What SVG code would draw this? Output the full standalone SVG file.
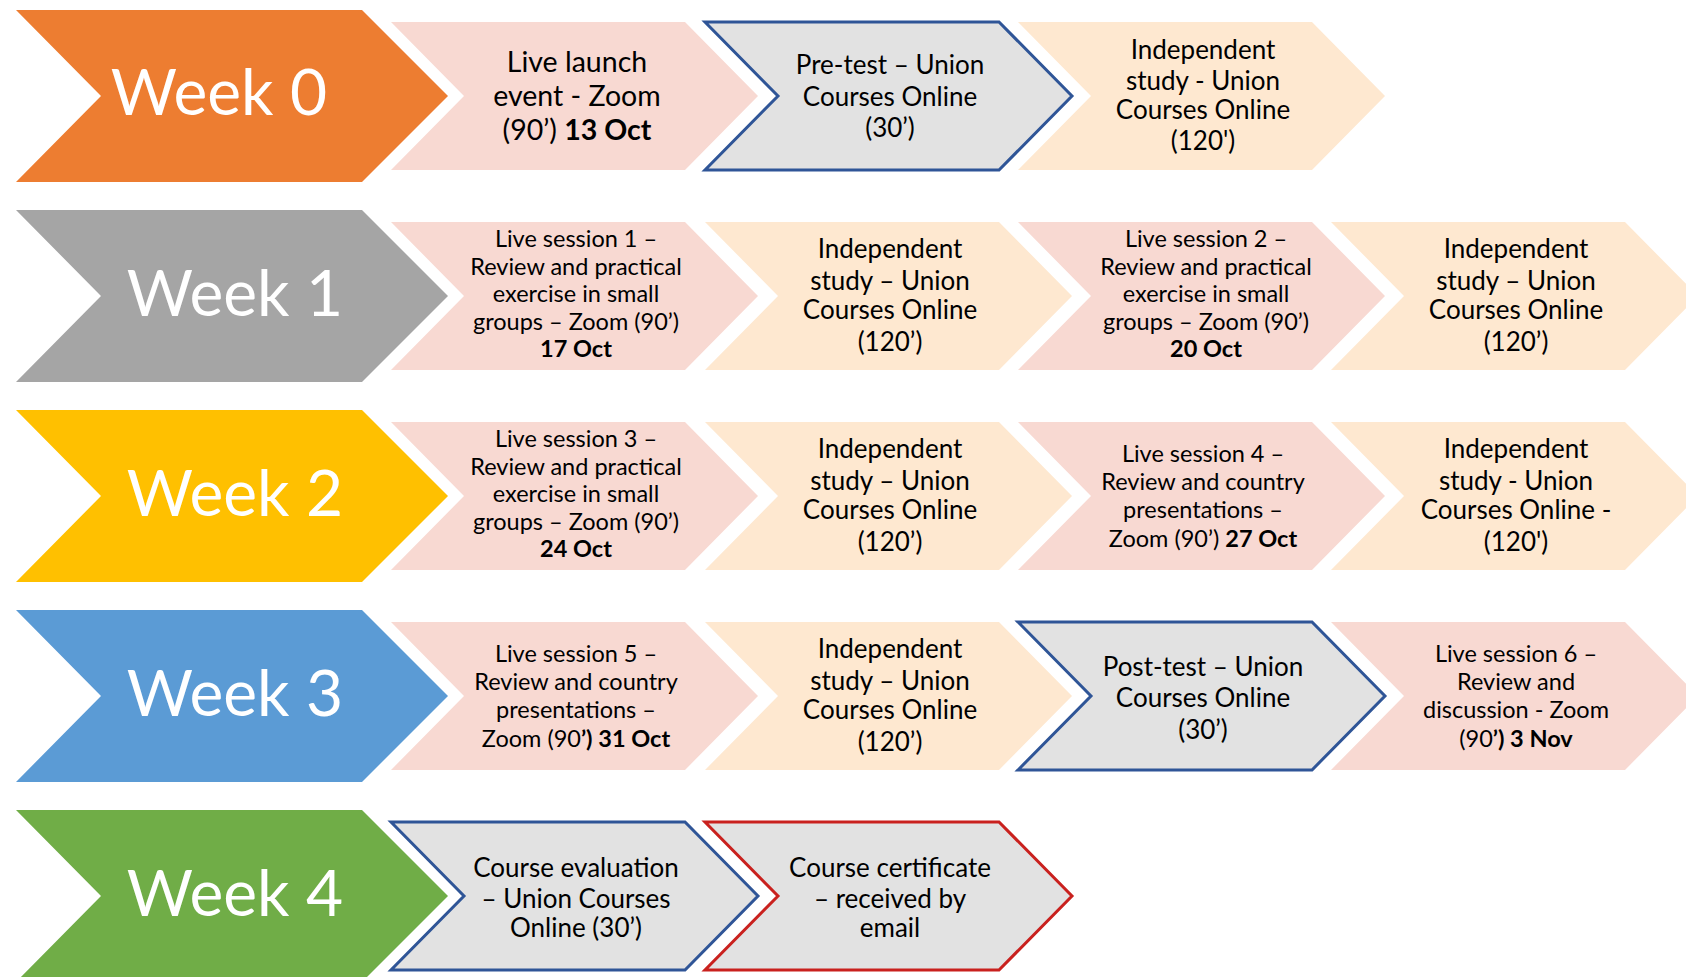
<svg xmlns="http://www.w3.org/2000/svg" width="1686" height="977" viewBox="0 0 1686 977">
<style>
.pink{fill:#F8D9D2}
.peach{fill:#FEE8D0}
.gb{fill:#E2E2E2;stroke:#2F5597;stroke-width:3}
.gr{fill:#E2E2E2;stroke:#C9211E;stroke-width:3}
text{font-family:Lato,"Liberation Sans",sans-serif;fill:#000;text-anchor:middle}
.wk{font-size:64px;fill:#fff}
.m{font-size:26px}
.l{font-size:28.5px}
.s{font-size:23.5px}
.b{font-weight:700}
</style>
<rect width="1686" height="977" fill="#fff"/>
<g id="connectors"/>
<!-- Week chevrons -->
<g id="week0"><polygon points="16,10 362,10 448,96 362,182 16,182 101,96" fill="#ED7D31"/><text class="wk" x="219" y="115">Week 0</text></g>
<g id="week1"><polygon points="16,210 362,210 448,296 362,382 16,382 101,296" fill="#A5A5A5"/><text class="wk" x="235" y="316">Week 1</text></g>
<g id="week2"><polygon points="16,410 362,410 448,496 362,582 16,582 101,496" fill="#FFC000"/><text class="wk" x="235" y="516">Week 2</text></g>
<g id="week3"><polygon points="16,610 362,610 448,696 362,782 16,782 101,696" fill="#5B9BD5"/><text class="wk" x="235" y="716">Week 3</text></g>
<g id="week4"><polygon points="16,810 362,810 448,896 362,982 16,982 101,896" fill="#70AD47"/><text class="wk" x="235" y="916">Week 4</text></g>

<!-- Row 0 -->
<g id="r0c1"><polygon class="pink" points="391,22 685,22 758,96 685,170 391,170 464,96"/>
<text class="l" x="577" y="72">Live launch</text>
<text class="l" x="577" y="106">event - Zoom</text>
<text class="l" x="577" y="140">(90’) <tspan class="b">13 Oct</tspan></text></g>
<g id="r0c2"><polygon class="gb" points="705,22 999,22 1072,96 999,170 705,170 778,96"/>
<text class="m" x="890" y="73.5">Pre-test – Union</text>
<text class="m" x="890" y="105.5">Courses Online</text>
<text class="m" x="890" y="136.5">(30’)</text></g>
<g id="r0c3"><polygon class="peach" points="1018,22 1312,22 1385,96 1312,170 1018,170 1091,96"/>
<text class="m" x="1203" y="58.5">Independent</text>
<text class="m" x="1203" y="89.5">study - Union</text>
<text class="m" x="1203" y="119">Courses Online</text>
<text class="m" x="1203" y="149.5">(120')</text></g>

<!-- Row 1 -->
<g id="r1c1"><polygon class="pink" points="391,222 685,222 758,296 685,370 391,370 464,296"/>
<text class="s" x="576" y="246.7">Live session 1 –</text>
<text class="s" x="576" y="275">Review and practical</text>
<text class="s" x="576" y="301.7">exercise in small</text>
<text class="s" x="576" y="330">groups – Zoom (90’)</text>
<text class="s b" x="576" y="357.3">17 Oct</text></g>
<g id="r1c2"><polygon class="peach" points="705,222 999,222 1072,296 999,370 705,370 778,296"/>
<text class="m" x="890" y="257.5">Independent</text>
<text class="m" x="890" y="289.5">study – Union</text>
<text class="m" x="890" y="319">Courses Online</text>
<text class="m" x="890" y="350.5">(120’)</text></g>
<g id="r1c3"><polygon class="pink" points="1018,222 1312,222 1385,296 1312,370 1018,370 1091,296"/>
<text class="s" x="1206" y="246.7">Live session 2 –</text>
<text class="s" x="1206" y="275">Review and practical</text>
<text class="s" x="1206" y="301.7">exercise in small</text>
<text class="s" x="1206" y="330">groups – Zoom (90’)</text>
<text class="s b" x="1206" y="357.3">20 Oct</text></g>
<g id="r1c4"><polygon class="peach" points="1331,222 1625,222 1698,296 1625,370 1331,370 1404,296"/>
<text class="m" x="1516" y="257.5">Independent</text>
<text class="m" x="1516" y="289.5">study – Union</text>
<text class="m" x="1516" y="319">Courses Online</text>
<text class="m" x="1516" y="350.5">(120’)</text></g>

<!-- Row 2 -->
<g id="r2c1"><polygon class="pink" points="391,422 685,422 758,496 685,570 391,570 464,496"/>
<text class="s" x="576" y="446.7">Live session 3 –</text>
<text class="s" x="576" y="475">Review and practical</text>
<text class="s" x="576" y="501.7">exercise in small</text>
<text class="s" x="576" y="530">groups – Zoom (90’)</text>
<text class="s b" x="576" y="557.3">24 Oct</text></g>
<g id="r2c2"><polygon class="peach" points="705,422 999,422 1072,496 999,570 705,570 778,496"/>
<text class="m" x="890" y="457.5">Independent</text>
<text class="m" x="890" y="489.5">study – Union</text>
<text class="m" x="890" y="519">Courses Online</text>
<text class="m" x="890" y="550.5">(120’)</text></g>
<g id="r2c3"><polygon class="pink" points="1018,422 1312,422 1385,496 1312,570 1018,570 1091,496"/>
<text class="s" x="1203" y="461.7">Live session 4 –</text>
<text class="s" x="1203" y="490">Review and country</text>
<text class="s" x="1203" y="518.3">presentations –</text>
<text class="s" x="1203" y="546.7">Zoom (90’) <tspan class="b">27 Oct</tspan></text></g>
<g id="r2c4"><polygon class="peach" points="1331,422 1625,422 1698,496 1625,570 1331,570 1404,496"/>
<text class="m" x="1516" y="457.5">Independent</text>
<text class="m" x="1516" y="489.5">study - Union</text>
<text class="m" x="1516" y="519">Courses Online -</text>
<text class="m" x="1516" y="550.5">(120')</text></g>

<!-- Row 3 -->
<g id="r3c1"><polygon class="pink" points="391,622 685,622 758,696 685,770 391,770 464,696"/>
<text class="s" x="576" y="661.7">Live session 5 –</text>
<text class="s" x="576" y="690">Review and country</text>
<text class="s" x="576" y="718.3">presentations –</text>
<text class="s" x="576" y="746.7">Zoom (90<tspan class="b">’) 31 Oct</tspan></text></g>
<g id="r3c2"><polygon class="peach" points="705,622 999,622 1072,696 999,770 705,770 778,696"/>
<text class="m" x="890" y="657.5">Independent</text>
<text class="m" x="890" y="689.5">study – Union</text>
<text class="m" x="890" y="719">Courses Online</text>
<text class="m" x="890" y="750.5">(120’)</text></g>
<g id="r3c3"><polygon class="gb" points="1018,622 1312,622 1385,696 1312,770 1018,770 1091,696"/>
<text class="m" x="1203" y="675.5">Post-test – Union</text>
<text class="m" x="1203" y="707">Courses Online</text>
<text class="m" x="1203" y="738.5">(30’)</text></g>
<g id="r3c4"><polygon class="pink" points="1331,622 1625,622 1698,696 1625,770 1331,770 1404,696"/>
<text class="s" x="1516" y="661.7">Live session 6 –</text>
<text class="s" x="1516" y="690">Review and</text>
<text class="s" x="1516" y="718.3">discussion - Zoom</text>
<text class="s" x="1516" y="746.7">(90<tspan class="b">’) 3 Nov</tspan></text></g>

<!-- Row 4 -->
<g id="r4c1"><polygon class="gb" points="391,822 685,822 758,896 685,970 391,970 464,896"/>
<text class="m" x="576" y="877">Course evaluation</text>
<text class="m" x="576" y="908">– Union Courses</text>
<text class="m" x="576" y="937">Online (30’)</text></g>
<g id="r4c2"><polygon class="gr" points="705,822 999,822 1072,896 999,970 705,970 778,896"/>
<text class="m" x="890" y="877">Course certificate</text>
<text class="m" x="890" y="908">– received by</text>
<text class="m" x="890" y="937">email</text></g>
</svg>
